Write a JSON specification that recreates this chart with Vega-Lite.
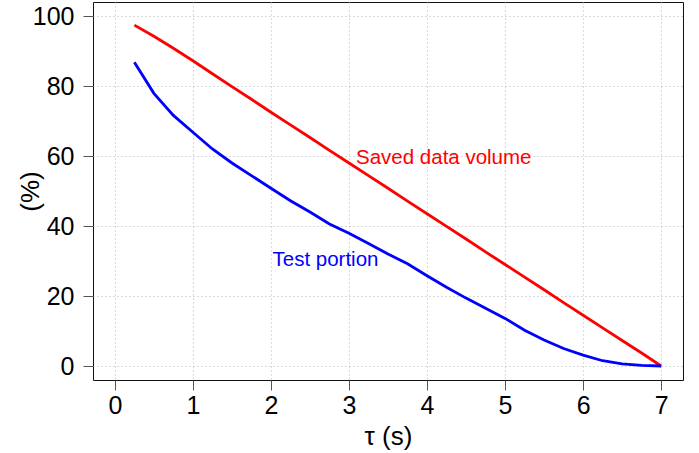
{
  "$schema": "https://vega.github.io/schema/vega-lite/v6.json",
  "width": 590,
  "height": 378,
  "autosize": {"type": "none"},
  "padding": {"left": 93, "top": 2, "right": 16, "bottom": 73},
  "background": "white",
  "config": {
    "view": {"stroke": "#111111", "strokeWidth": 1},
    "font": "Liberation Sans",
    "axis": {
      "domain": false,
      "grid": true,
      "gridColor": "#b4b4b4",
      "gridDash": [1, 3],
      "gridWidth": 1,
      "tickColor": "#555555",
      "tickSize": 10,
      "tickWidth": 1,
      "labelFont": "Liberation Sans",
      "labelFontSize": 25,
      "labelColor": "black",
      "titleFont": "Liberation Sans",
      "titleFontSize": 26,
      "titleFontWeight": "normal",
      "titleColor": "black"
    }
  },
  "datasets": {
    "lines": [
      {"tau": 0.25, "pct": 97.4, "series": "Saved data volume"},
      {"tau": 0.5, "pct": 94.2, "series": "Saved data volume"},
      {"tau": 0.75, "pct": 90.8, "series": "Saved data volume"},
      {"tau": 1.0, "pct": 87.2, "series": "Saved data volume"},
      {"tau": 1.25, "pct": 83.5, "series": "Saved data volume"},
      {"tau": 1.5, "pct": 79.8, "series": "Saved data volume"},
      {"tau": 1.75, "pct": 76.2, "series": "Saved data volume"},
      {"tau": 2.0, "pct": 72.5, "series": "Saved data volume"},
      {"tau": 2.25, "pct": 68.9, "series": "Saved data volume"},
      {"tau": 2.5, "pct": 65.3, "series": "Saved data volume"},
      {"tau": 2.75, "pct": 61.6, "series": "Saved data volume"},
      {"tau": 3.0, "pct": 58.0, "series": "Saved data volume"},
      {"tau": 3.25, "pct": 54.4, "series": "Saved data volume"},
      {"tau": 3.5, "pct": 50.8, "series": "Saved data volume"},
      {"tau": 3.75, "pct": 47.1, "series": "Saved data volume"},
      {"tau": 4.0, "pct": 43.5, "series": "Saved data volume"},
      {"tau": 4.25, "pct": 39.9, "series": "Saved data volume"},
      {"tau": 4.5, "pct": 36.3, "series": "Saved data volume"},
      {"tau": 4.75, "pct": 32.6, "series": "Saved data volume"},
      {"tau": 5.0, "pct": 29.0, "series": "Saved data volume"},
      {"tau": 5.25, "pct": 25.4, "series": "Saved data volume"},
      {"tau": 5.5, "pct": 21.8, "series": "Saved data volume"},
      {"tau": 5.75, "pct": 18.1, "series": "Saved data volume"},
      {"tau": 6.0, "pct": 14.5, "series": "Saved data volume"},
      {"tau": 6.25, "pct": 10.9, "series": "Saved data volume"},
      {"tau": 6.5, "pct": 7.3, "series": "Saved data volume"},
      {"tau": 6.75, "pct": 3.7, "series": "Saved data volume"},
      {"tau": 7.0, "pct": 0.0, "series": "Saved data volume"},
      {"tau": 0.25, "pct": 86.8, "series": "Test portion"},
      {"tau": 0.5, "pct": 77.9, "series": "Test portion"},
      {"tau": 0.75, "pct": 71.6, "series": "Test portion"},
      {"tau": 1.0, "pct": 66.8, "series": "Test portion"},
      {"tau": 1.25, "pct": 62.0, "series": "Test portion"},
      {"tau": 1.5, "pct": 58.0, "series": "Test portion"},
      {"tau": 1.75, "pct": 54.4, "series": "Test portion"},
      {"tau": 2.0, "pct": 50.8, "series": "Test portion"},
      {"tau": 2.25, "pct": 47.2, "series": "Test portion"},
      {"tau": 2.5, "pct": 44.0, "series": "Test portion"},
      {"tau": 2.75, "pct": 40.6, "series": "Test portion"},
      {"tau": 3.0, "pct": 37.9, "series": "Test portion"},
      {"tau": 3.25, "pct": 35.0, "series": "Test portion"},
      {"tau": 3.5, "pct": 32.0, "series": "Test portion"},
      {"tau": 3.75, "pct": 29.2, "series": "Test portion"},
      {"tau": 4.0, "pct": 25.8, "series": "Test portion"},
      {"tau": 4.25, "pct": 22.5, "series": "Test portion"},
      {"tau": 4.5, "pct": 19.4, "series": "Test portion"},
      {"tau": 4.75, "pct": 16.5, "series": "Test portion"},
      {"tau": 5.0, "pct": 13.6, "series": "Test portion"},
      {"tau": 5.25, "pct": 10.2, "series": "Test portion"},
      {"tau": 5.5, "pct": 7.4, "series": "Test portion"},
      {"tau": 5.75, "pct": 5.0, "series": "Test portion"},
      {"tau": 6.0, "pct": 3.1, "series": "Test portion"},
      {"tau": 6.25, "pct": 1.5, "series": "Test portion"},
      {"tau": 6.5, "pct": 0.6, "series": "Test portion"},
      {"tau": 6.75, "pct": 0.2, "series": "Test portion"},
      {"tau": 7.0, "pct": 0.0, "series": "Test portion"}
    ],
    "labels": [
      {"tau": 3.09, "pct": 59.5, "series": "Saved data volume", "text": "Saved data volume"},
      {"tau": 2.02, "pct": 30.2, "series": "Test portion", "text": "Test portion"}
    ]
  },
  "layer": [
    {
      "data": {"name": "lines"},
      "mark": {"type": "line", "strokeWidth": 2.8, "clip": true},
      "encoding": {
        "x": {
          "field": "tau",
          "type": "quantitative",
          "scale": {"domain": [-0.28, 7.28], "nice": false, "zero": false},
          "axis": {
            "values": [0, 1, 2, 3, 4, 5, 6, 7],
            "format": "d",
            "title": "τ (s)",
            "labelPadding": 3,
            "titleY": 64,
            "titleBaseline": "alphabetic"
          }
        },
        "y": {
          "field": "pct",
          "type": "quantitative",
          "scale": {"domain": [-4, 104], "nice": false, "zero": false},
          "axis": {
            "values": [0, 10, 20, 30, 40, 50, 60, 70, 80, 90, 100],
            "labelExpr": "datum.value % 20 === 0 ? datum.label : ''",
            "tickOpacity": {"condition": {"test": "datum.value % 20 !== 0", "value": 0}, "value": 1},
            "labelPadding": 9,
            "title": "(%)",
            "titleX": -50,
            "titleBaseline": "bottom"
          }
        },
        "color": {
          "field": "series",
          "type": "nominal",
          "scale": {"domain": ["Saved data volume", "Test portion"], "range": ["#ff0000", "#0000ff"]},
          "legend": null
        },
        "order": {"field": "tau", "type": "quantitative"}
      }
    },
    {
      "data": {"name": "labels"},
      "mark": {"type": "text", "align": "left", "baseline": "middle", "fontSize": 20.5, "font": "Liberation Sans"},
      "encoding": {
        "x": {"field": "tau", "type": "quantitative"},
        "y": {"field": "pct", "type": "quantitative"},
        "text": {"field": "text", "type": "nominal"},
        "color": {"field": "series", "type": "nominal", "legend": null}
      }
    }
  ]
}
